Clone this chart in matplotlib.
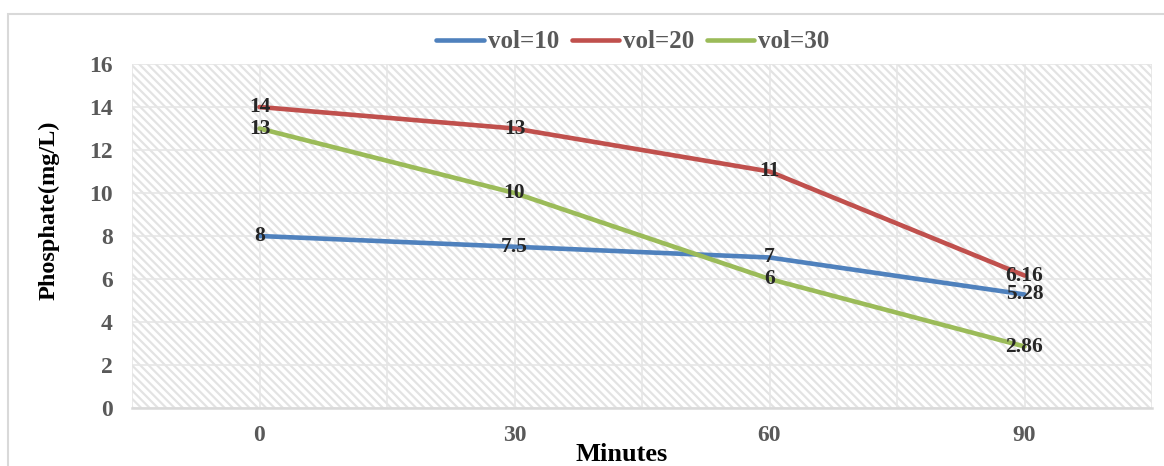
import matplotlib.pyplot as plt
from matplotlib.patches import Rectangle

# Data
minutes = [0, 30, 60, 90]
vol10 = [8, 7.5, 7, 5.28]
vol20 = [14, 13, 11, 6.16]
vol30 = [13, 10, 6, 2.86]
labels10 = ["8", "7.5", "7", "5.28"]
labels20 = ["14", "13", "11", "6.16"]
labels30 = ["13", "10", "6", "2.86"]

plt.rcParams['font.family'] = ['Liberation Serif', 'DejaVu Serif']
plt.rcParams['font.weight'] = 'bold'
plt.rcParams['hatch.linewidth'] = 1.6
plt.rcParams['hatch.color'] = '#e3e3e3'

fig = plt.figure(figsize=(11.64, 4.66), dpi=100)
ax = fig.add_axes([132 / 1164, 58 / 466, 1020 / 1164, 344 / 466])

# outer chart frame
fig.patches.append(Rectangle((8 / 1164, -0.05), 1.1, (466 - 14) / 466 + 0.05,
                             transform=fig.transFigure, fill=False,
                             edgecolor='#d9d9d9', linewidth=1.5))

# hatched plot area
ax.add_patch(Rectangle((0, 0), 1, 1, transform=ax.transAxes, facecolor='white',
                       hatch='\\\\\\\\', edgecolor='#e3e3e3', linewidth=0, zorder=0))

series = [
    (vol10, labels10, '#4F81BD', 'vol=10'),
    (vol20, labels20, '#C0504D', 'vol=20'),
    (vol30, labels30, '#9BBB59', 'vol=30'),
]
for vals, labs, color, name in series:
    ax.plot(minutes, vals, color=color, linewidth=3.3, label=name, zorder=3,
            solid_capstyle='round')
for vals, labs, color, name in series:
    for x, y, t in zip(minutes, vals, labs):
        ax.text(x, y, t, ha='center', va='center', fontsize=15.5,
                fontweight='bold', color='#262626', zorder=5)

ax.set_xlim(-15, 105)
ax.set_ylim(0, 16)
ax.set_xticks(minutes)
ax.set_xticks([-15, 15, 45, 75, 105], minor=True)
ax.set_yticks(range(0, 17, 2))
ax.grid(True, which='both', color='#e6e6e6', linewidth=1.2, zorder=1)
ax.set_axisbelow(True)
ax.tick_params(which='both', length=0)
ax.tick_params(axis='y', pad=14, labelsize=17, labelcolor='#595959')
ax.tick_params(axis='x', pad=12, labelsize=17, labelcolor='#595959')
for lab in ax.get_xticklabels() + ax.get_yticklabels():
    lab.set_fontweight('bold')

for s in ['top', 'right', 'left']:
    ax.spines[s].set_visible(False)
ax.spines['bottom'].set_color('#d9d9d9')
ax.spines['bottom'].set_linewidth(1.8)

fig.text(622 / 1164, 1 - 461 / 466, 'Minutes', ha='center', va='baseline',
         fontsize=19, fontweight='bold', color='black')
fig.text(49 / 1164, 1 - 210 / 466, 'Phosphate(mg/L)', ha='center', va='center',
         rotation=90, fontsize=17.5, fontweight='bold', color='black')

leg = fig.legend(loc='center', bbox_to_anchor=(633 / 1164, 1 - 42 / 466), ncol=3,
                 frameon=False, fontsize=18, handlelength=1.9, handletextpad=0.16,
                 columnspacing=0.5)
for t in leg.get_texts():
    t.set_color('#595959')
    t.set_fontweight('bold')

fig.savefig('out.png', dpi=100)
